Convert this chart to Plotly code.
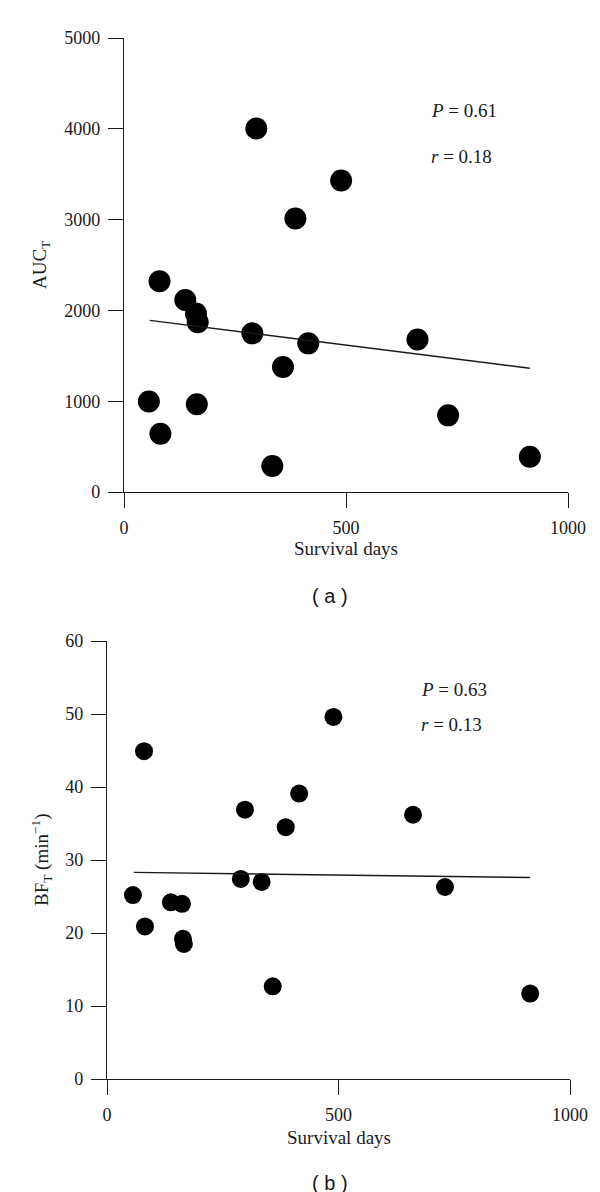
import plotly.graph_objects as go

# ---- data ----
survival_days = [56, 80, 82, 138, 162, 164, 166, 289, 298, 334, 358, 386, 415, 489, 661, 730, 914]
auc_t = [996, 2321, 641, 2114, 1966, 966, 1869, 1747, 4004, 287, 1376, 3013, 1637, 3430, 1679, 844, 388]
bf_t = [25.2, 44.9, 20.9, 24.2, 24.0, 19.2, 18.5, 27.4, 36.9, 27.0, 12.7, 34.5, 39.1, 49.6, 36.2, 26.3, 11.7]

fit_x = [58, 914]
fit_auc = [1890, 1363]
fit_bf = [28.3, 27.6]

x_ticks = [0, 500, 1000]
auc_ticks = [0, 1000, 2000, 3000, 4000, 5000]
bf_ticks = [0, 10, 20, 30, 40, 50, 60]

stats_a = ["<i>P</i> = 0.61", "<i>r</i> = 0.18"]
stats_b = ["<i>P</i> = 0.63", "<i>r</i> = 0.13"]

W, H = 600, 1192
SERIF = "Liberation Serif, Times New Roman, serif"
SANS = "Liberation Sans, Arial, sans-serif"
INK = "#1a1a1a"

fig = go.Figure()

fig.add_trace(go.Scatter(x=survival_days, y=auc_t, mode="markers",
                         marker=dict(size=22, color="black"), xaxis="x", yaxis="y",
                         showlegend=False, cliponaxis=False))
fig.add_trace(go.Scatter(x=fit_x, y=fit_auc, mode="lines",
                         line=dict(color=INK, width=1.4), xaxis="x", yaxis="y",
                         showlegend=False))
fig.add_trace(go.Scatter(x=survival_days, y=bf_t, mode="markers",
                         marker=dict(size=18, color="black"), xaxis="x2", yaxis="y2",
                         showlegend=False, cliponaxis=False))
fig.add_trace(go.Scatter(x=fit_x, y=fit_bf, mode="lines",
                         line=dict(color=INK, width=1.4), xaxis="x2", yaxis="y2",
                         showlegend=False))

def px_x(p):
    return p / W

def px_y(p):
    return 1 - p / H

common_axis = dict(showline=True, linecolor=INK, linewidth=1.4, ticks="outside",
                   ticklen=15, tickwidth=1.4, tickcolor=INK, showgrid=False,
                   zeroline=False, tickfont=dict(family=SERIF, size=18, color=INK),
                   ticklabelstandoff=4, automargin=False)

fig.update_layout(
    width=W, height=H,
    margin=dict(l=0, r=0, t=0, b=0, autoexpand=False),
    plot_bgcolor="white", paper_bgcolor="white",
    font=dict(family=SERIF, color=INK),
    xaxis=dict(domain=[px_x(116), px_x(560)], range=[0, 1000], tickvals=x_ticks,
               anchor="y", **common_axis),
    yaxis=dict(domain=[px_y(484), px_y(30)], range=[0, 5000], tickvals=auc_ticks,
               anchor="x", **common_axis),
    xaxis2=dict(domain=[px_x(99), px_x(562)], range=[0, 1000], tickvals=x_ticks,
                anchor="y2", **common_axis),
    yaxis2=dict(domain=[px_y(1071), px_y(633)], range=[0, 60], tickvals=bf_ticks,
                anchor="x2", **common_axis),
)

TF = dict(family=SERIF, size=19, color=INK)
annotations = []
# axis titles
annotations.append(dict(text="Survival days", x=px_x(338), y=px_y(540), xref="paper", yref="paper",
                        xanchor="center", yanchor="middle", showarrow=False, font=TF))
annotations.append(dict(text="AUC<sub>T</sub>", x=px_x(33), y=px_y(257), xref="paper", yref="paper",
                        xanchor="center", yanchor="middle", showarrow=False, textangle=-90, font=TF))
annotations.append(dict(text="Survival days", x=px_x(330.5), y=px_y(1129), xref="paper", yref="paper",
                        xanchor="center", yanchor="middle", showarrow=False, font=TF))
annotations.append(dict(text="BF<sub>T</sub> (min<sup>\u22121</sup>)", x=px_x(33), y=px_y(852),
                        xref="paper", yref="paper", xanchor="center", yanchor="middle",
                        showarrow=False, textangle=-90, font=TF))
# statistics
for i, t in enumerate(stats_a):
    annotations.append(dict(text=t, x=687, y=[4200, 3700][i], xref="x", yref="y",
                            xanchor="left", yanchor="middle", showarrow=False, font=TF))
for i, t in enumerate(stats_b):
    annotations.append(dict(text=t, x=674, y=[53.4, 48.5][i], xref="x2", yref="y2",
                            xanchor="left", yanchor="middle", showarrow=False, font=TF))
# panel labels
annotations.append(dict(text="( a )", x=px_x(322), y=px_y(588), xref="paper", yref="paper",
                        xanchor="center", yanchor="middle", showarrow=False,
                        font=dict(family=SANS, size=20, color=INK)))
annotations.append(dict(text="( b )", x=px_x(322), y=px_y(1175), xref="paper", yref="paper",
                        xanchor="center", yanchor="middle", showarrow=False,
                        font=dict(family=SANS, size=20, color=INK)))
fig.update_layout(annotations=annotations)

fig.write_html("out.html")
